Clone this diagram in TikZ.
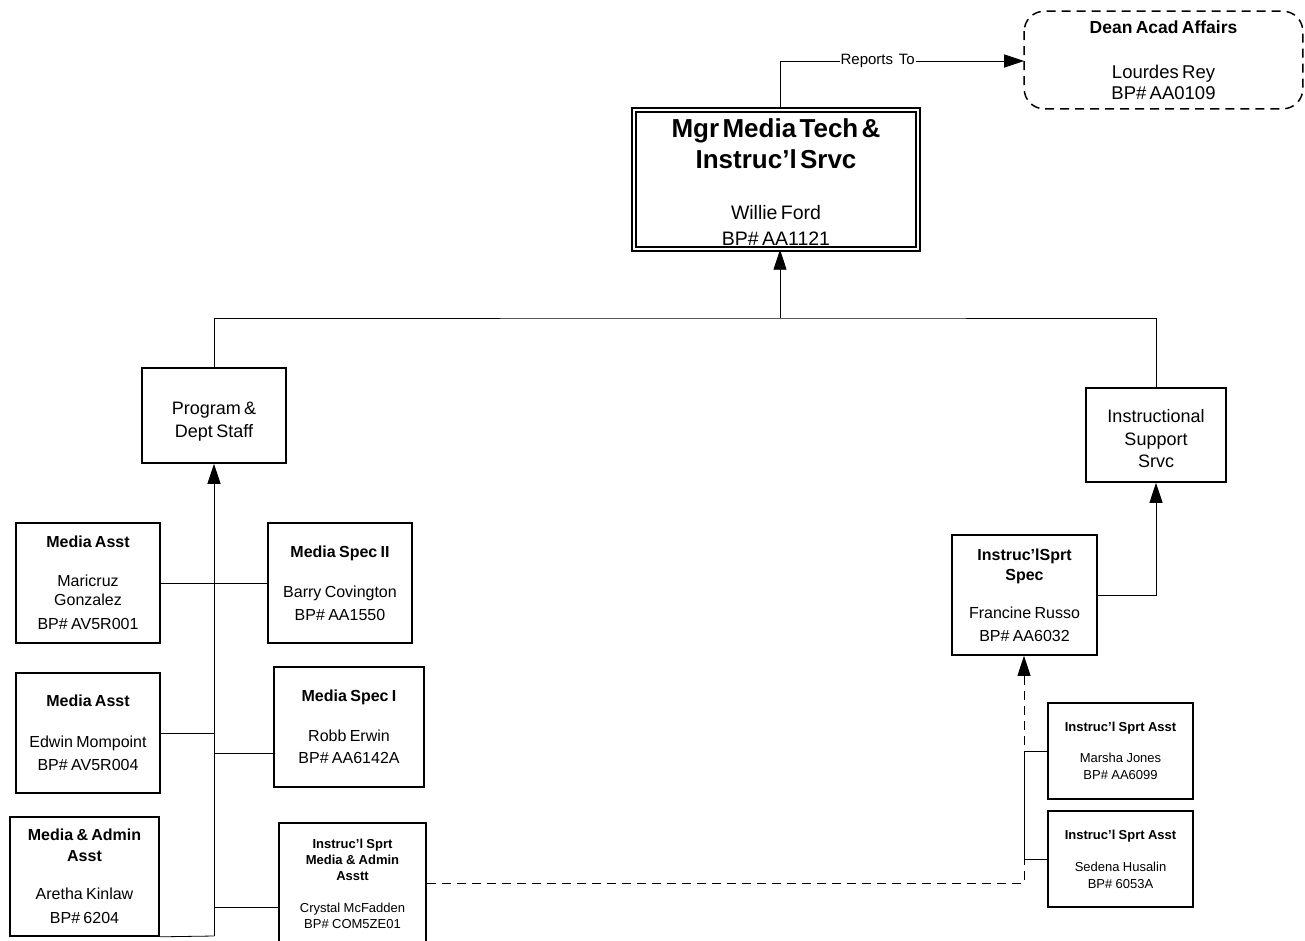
\documentclass[tikz,border=0pt]{standalone}
\usepackage{fontspec}
\setmainfont{Liberation Sans}[WordSpace=1.4]
\usetikzlibrary{arrows.meta,calc}
\newcommand{\fsz}[2]{\fontsize{#1}{#2}\selectfont}
\newcommand{\vend}[1]{\par\vspace{#1}\hrule height 0pt width 0pt}
\begin{document}
\begin{tikzpicture}[x=1pt,y=-1pt,
  box/.style={draw,line width=1.6pt,fill=white,align=center,inner sep=0pt},
  conn/.style={line width=0.8pt},
  arr/.style={-{Triangle[length=20pt,width=13pt]}},
  dashline/.style={dash pattern=on 9pt off 6pt}
]
\useasboundingbox[fill=white] (0,0) rectangle (1305,940);

% top level
\node[box,draw=none,fill=none,minimum width=277pt,minimum height=96pt,text width=267pt] (dean) at (1163.5,60)
  {{\fsz{17.5}{20}\bfseries Dean Acad Affairs\par}\vspace{24pt}{\fsz{18.5}{21}Lourdes Rey\\BP\# AA0109\par}};
\draw[line width=1.5pt,dashline,rounded corners=20pt] (dean.north west) rectangle (dean.south east);

\node[box,double,double distance=2.5pt,line width=1.3pt,minimum width=284pt,minimum height=139pt,text width=276pt] (mgr) at (776,179.5)
  {{\fsz{26}{31}\bfseries Mgr Media Tech \&\\Instruc'l Srvc\par}\vspace{25pt}{\fsz{19.5}{26}Willie Ford\\BP\# AA1121\par}\vend{-6pt}};

\node[box,minimum width=144pt,minimum height=95pt,text width=134pt] (prog) at (214,415.5)
  {{\fsz{18}{23}Program \&\\Dept Staff\par}\vend{-12pt}};
\node[box,minimum width=140pt,minimum height=94pt,text width=130pt] (inst) at (1156,435)
  {{\fsz{18}{22.5}Instructional\\Support\\Srvc\par}\vend{-8pt}};

% left side
\node[box,minimum width=144pt,minimum height=120pt,text width=134pt] (mar) at (88,583)
  {{\fsz{16}{19}\bfseries Media Asst\par}\vspace{20pt}{\fsz{16}{19}Maricruz\\Gonzalez\par}\vspace{5pt}{\fsz{16}{19}BP\# AV5R001\par}};
\node[box,minimum width=144pt,minimum height=120pt,text width=134pt] (barry) at (340,583)
  {{\fsz{16}{19}\bfseries Media Spec II\par}\vspace{17pt}{\fsz{16}{23}Barry Covington\\BP\# AA1550\par}};
\node[box,minimum width=144pt,minimum height=120pt,text width=134pt] (edwin) at (88,733)
  {{\fsz{16}{19}\bfseries Media Asst\par}\vspace{18pt}{\fsz{16}{23}Edwin Mompoint\\BP\# AV5R004\par}};
\node[box,minimum width=150pt,minimum height=120pt,text width=140pt] (robb) at (349,727)
  {{\fsz{16}{19}\bfseries Media Spec I\par}\vspace{18pt}{\fsz{16}{22}Robb Erwin\\BP\# AA6142A\par}};
\node[box,minimum width=149pt,minimum height=119pt,text width=139pt] (are) at (84.5,876.5)
  {{\fsz{16}{21}\bfseries Media \& Admin\\Asst\par}\vspace{14pt}{\fsz{16}{24}Aretha Kinlaw\\BP\# 6204\par}};
\node[box,minimum width=147pt,minimum height=127pt,text width=137pt] (crys) at (352.5,886.5)
  {{\fsz{13}{16}\bfseries Instruc'l Sprt\\Media \& Admin\\Asstt\par}\vspace{16pt}{\fsz{13}{16}Crystal McFadden\\BP\# COM5ZE01\par}\vend{6pt}};

% right side
\node[box,minimum width=145pt,minimum height=120pt,text width=135pt] (fran) at (1024.5,595)
  {{\fsz{16}{20}\bfseries Instruc'lSprt\\Spec\par}\vspace{15pt}{\fsz{16}{23}Francine Russo\\BP\# AA6032\par}};
\node[box,minimum width=145pt,minimum height=96pt,text width=135pt] (mars) at (1120.5,751)
  {{\fsz{13}{16}\bfseries Instruc'l Sprt Asst\par}\vspace{14.5pt}{\fsz{13}{16.5}Marsha Jones\\BP\# AA6099\par}};
\node[box,minimum width=145pt,minimum height=96pt,text width=135pt] (sed) at (1120.5,859)
  {{\fsz{13}{16}\bfseries Instruc'l Sprt Asst\par}\vspace{16pt}{\fsz{13}{16.5}Sedena Husalin\\BP\# 6053A\par}};

% coordinates
\coordinate (rx) at (780,61);
\coordinate (bus) at (780,318);
\coordinate (tb) at (214,936);
\coordinate (dc) at (1024,883);

% connectors top
\draw[conn,arr] (mgr.north -| rx) -- (rx) -- node[pos=0.4,fill=white,inner sep=1pt,font=\fsz{15}{18}]{Reports To} (dean.west |- rx);
\draw[conn,arr] (bus) -- (mgr.south -| bus);
\draw[conn] (prog.north) |- (bus) -| (inst.north);

% left trunk
\draw[conn,arr] (tb) -- (prog.south);
\draw[conn] (mar.east) -- (barry.west);
\draw[conn] (edwin.east) -- (edwin.east -| tb);
\draw[conn] ($(robb.west)+(0,26)$) coordinate (rj) -- (rj -| tb);
\draw[conn] (are.south east) -- (tb);
\draw[conn] ($(crys.west)+(0,20.5)$) coordinate (cj) -- (cj -| tb);

% right side
\draw[conn,arr] (fran.east) -| (inst.south);
\draw[conn] (mars.west) -- (mars.west -| dc) -- (sed.west -| dc) -- (sed.west);
\draw[conn,dashline,arr] ($(crys.east)+(0,-3.5)$) -- (dc) -- (fran.south -| dc);
\end{tikzpicture}
\end{document}
